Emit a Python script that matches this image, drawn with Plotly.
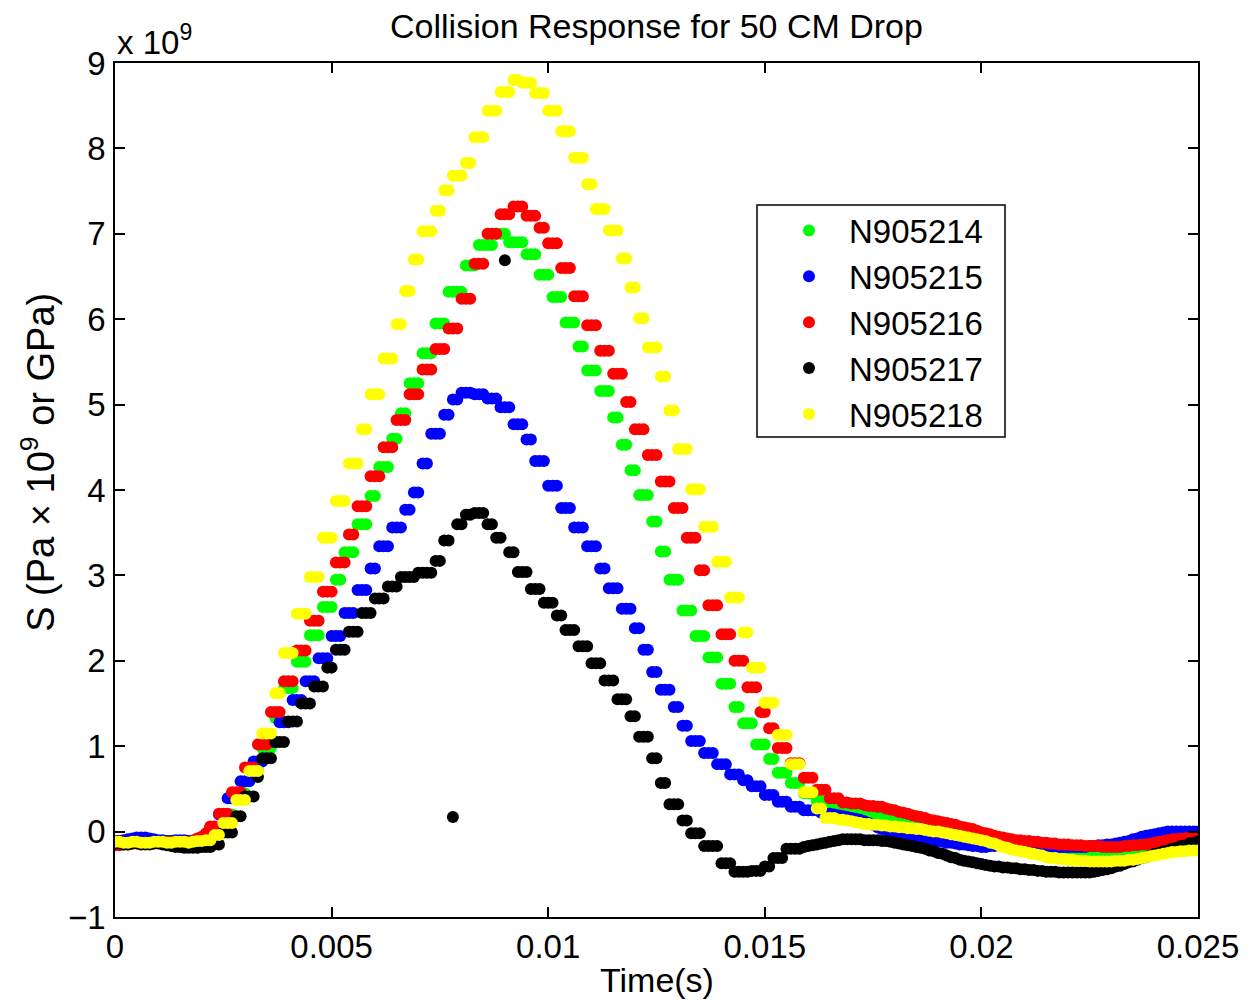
import numpy as np
import plotly.graph_objects as go

DT = 0.0001  # sampling interval (s)

# Values in units of 1e9 Pa, one per sample (t = i * DT)
n905214 = [
    -0.11, -0.11, -0.12, -0.11, -0.11, -0.10, -0.10, -0.11, -0.11, -0.12, -0.12, -0.11, -0.11, -0.11, -0.12, -0.12,
    -0.11, -0.11, -0.10, -0.10, -0.09, -0.08, -0.06,
    0.03, 0.03, 0.20, 0.20, 0.20, 0.45, 0.45, 0.45, 0.72, 0.72, 0.72, 0.98, 0.98, 0.98, 1.33, 1.33,
    1.68, 1.68, 1.68, 1.99, 1.99, 1.99, 2.30, 2.30, 2.30, 2.63, 2.63, 2.63, 2.95, 2.95,
    3.27, 3.27, 3.27, 3.60, 3.60, 3.60, 3.93, 3.93, 4.27, 4.27, 4.27, 4.60, 4.60, 4.90, 4.90,
    5.25, 5.25, 5.25, 5.60, 5.60, 5.60, 5.95, 5.95, 5.95, 6.32, 6.32, 6.32, 6.32, 6.63, 6.63, 6.63,
    6.87, 6.87, 6.87, 6.87, 7.00, 7.00, 7.00, 6.90, 6.90, 6.90, 6.90, 6.76, 6.76, 6.76,
    6.52, 6.52, 6.52, 6.26, 6.26, 6.26, 5.96, 5.96, 5.96, 5.68, 5.68, 5.40, 5.40, 5.40,
    5.16, 5.16, 5.16, 4.85, 4.85, 4.53, 4.53, 4.23, 4.23, 3.94, 3.94, 3.94, 3.63, 3.63, 3.28, 3.28,
    2.95, 2.95, 2.95, 2.59, 2.59, 2.59, 2.29, 2.29, 2.29, 2.04, 2.04, 2.04, 1.73, 1.73, 1.73,
    1.46, 1.46, 1.27, 1.27, 1.27, 1.02, 1.02, 1.02, 0.85, 0.85, 0.69, 0.69, 0.69, 0.57, 0.57, 0.57,
    0.45, 0.45, 0.45, 0.36, 0.36, 0.28, 0.28, 0.28,
    0.24, 0.23, 0.23, 0.22, 0.22,
    0.21, 0.20, 0.19, 0.18, 0.17, 0.16, 0.15, 0.14, 0.13,
    0.12, 0.11, 0.10, 0.09, 0.08, 0.07, 0.06, 0.05, 0.04, 0.03,
    0.02, 0.01, 0.00, -0.01, -0.02, -0.03, -0.04, -0.05, -0.06, -0.07,
    -0.08, -0.09, -0.10, -0.11, -0.12, -0.13, -0.14, -0.15, -0.16, -0.17,
    -0.18, -0.19, -0.20, -0.21, -0.22, -0.22, -0.23, -0.23, -0.24, -0.24,
    -0.24, -0.25, -0.25, -0.25, -0.25, -0.25, -0.25, -0.25, -0.25, -0.24,
    -0.24, -0.23, -0.22, -0.21, -0.20, -0.19, -0.18, -0.17, -0.16, -0.15,
    -0.14, -0.13, -0.12, -0.11, -0.10, -0.09, -0.08, -0.08, -0.07, -0.07,
]

n905215 = [
    -0.11, -0.11, -0.10, -0.09, -0.08, -0.07, -0.07, -0.07, -0.08, -0.09, -0.10, -0.10, -0.11, -0.11, -0.10, -0.10,
    -0.10, -0.11, -0.11, -0.10, -0.09,
    -0.04, 0.05, 0.05, 0.20, 0.20, 0.39, 0.39, 0.39, 0.59, 0.59, 0.59, 0.82, 0.82, 0.82,
    1.05, 1.05, 1.05, 1.28, 1.28, 1.28, 1.54, 1.54, 1.54, 1.76, 1.76, 1.76, 2.03, 2.03, 2.03,
    2.29, 2.29, 2.29, 2.56, 2.56, 2.56, 2.83, 2.83, 2.83, 3.08, 3.08, 3.34, 3.34, 3.34,
    3.56, 3.56, 3.56, 3.77, 3.77, 3.97, 3.97, 4.31, 4.31, 4.66, 4.66, 4.66, 4.88, 4.88, 5.06, 5.06,
    5.14, 5.14, 5.14, 5.12, 5.12, 5.12, 5.07, 5.07, 5.07, 4.97, 4.97, 4.97, 4.77, 4.77, 4.77,
    4.59, 4.59, 4.34, 4.34, 4.34, 4.05, 4.05, 4.05, 3.79, 3.79, 3.79, 3.56, 3.56, 3.56,
    3.34, 3.34, 3.34, 3.08, 3.08, 2.85, 2.85, 2.85, 2.61, 2.61, 2.61, 2.38, 2.38, 2.13, 2.13,
    1.87, 1.87, 1.66, 1.66, 1.66, 1.46, 1.46, 1.24, 1.24, 1.06, 1.06, 1.06, 0.92, 0.92, 0.92,
    0.79, 0.79, 0.79, 0.67, 0.67, 0.67, 0.60, 0.60, 0.53, 0.53, 0.53, 0.43, 0.43, 0.43,
    0.35, 0.35, 0.35, 0.29, 0.29, 0.29, 0.25, 0.25, 0.25, 0.25,
    0.22, 0.21, 0.21, 0.20, 0.19,
    0.18, 0.17, 0.16, 0.15, 0.14, 0.12, 0.10, 0.08,
    0.05, 0.03, 0.02, 0.00, -0.02, -0.04,
    -0.05, -0.06, -0.07, -0.08, -0.08, -0.09, -0.10, -0.11, -0.11,
    -0.12, -0.13, -0.13, -0.14, -0.15, -0.15, -0.16, -0.17, -0.17, -0.18,
    -0.18, -0.17, -0.17, -0.16, -0.16, -0.16, -0.16, -0.16, -0.17, -0.17,
    -0.17, -0.18, -0.18, -0.18, -0.18, -0.18, -0.18, -0.18, -0.18, -0.18,
    -0.18, -0.18, -0.18, -0.18, -0.17, -0.17, -0.16, -0.16, -0.15, -0.15,
    -0.14, -0.13, -0.12, -0.11, -0.09, -0.08, -0.06, -0.05, -0.04, -0.03,
    -0.02, -0.01, 0.00, 0.00, 0.00, 0.00, 0.00, 0.00, 0.00, 0.00,
]

n905216 = [
    -0.16, -0.16, -0.15, -0.15,
    -0.14, -0.13, -0.13, -0.13, -0.14, -0.14, -0.13, -0.13, -0.12, -0.12, -0.13, -0.13, -0.12, -0.12, -0.11,
    -0.08, -0.06, -0.02, 0.06, 0.06,
    0.21, 0.21, 0.21, 0.46, 0.46, 0.46, 0.75, 0.75, 0.75, 1.02, 1.02, 1.02, 1.40, 1.40, 1.40,
    1.76, 1.76, 1.76, 2.12, 2.12, 2.12, 2.47, 2.47, 2.47, 2.81, 2.81, 2.81, 3.15, 3.15, 3.15,
    3.48, 3.48, 3.81, 3.81, 3.81, 4.16, 4.16, 4.16, 4.50, 4.50, 4.50, 4.82, 4.82, 4.82,
    5.12, 5.12, 5.12, 5.41, 5.41, 5.41, 5.65, 5.65, 5.65, 5.89, 5.89, 5.89, 6.24, 6.24, 6.24,
    6.65, 6.65, 6.65, 7.00, 7.00, 7.00, 7.23, 7.23, 7.23, 7.32, 7.32, 7.32, 7.21, 7.21, 7.21,
    7.07, 7.07, 6.89, 6.89, 6.89, 6.60, 6.60, 6.60, 6.27, 6.27, 6.27, 5.93, 5.93, 5.93,
    5.63, 5.63, 5.63, 5.36, 5.36, 5.36, 5.03, 5.03, 4.71, 4.71, 4.71, 4.41, 4.41, 4.41,
    4.10, 4.10, 4.10, 3.79, 3.79, 3.79, 3.44, 3.44, 3.44, 3.06, 3.06, 2.65, 2.65, 2.65,
    2.31, 2.31, 2.31, 2.00, 2.00, 2.00, 1.69, 1.69, 1.69, 1.40, 1.40, 1.21, 1.21,
    0.98, 0.98, 0.98, 0.80, 0.80, 0.80, 0.63, 0.63, 0.63, 0.49, 0.49, 0.49, 0.39, 0.39, 0.39,
    0.34, 0.34, 0.33, 0.33, 0.33,
    0.31, 0.30, 0.30, 0.29, 0.29,
    0.27, 0.26, 0.25, 0.23, 0.22, 0.21,
    0.19, 0.18, 0.17, 0.16, 0.14, 0.13, 0.12,
    0.11, 0.10, 0.09, 0.08, 0.06, 0.05, 0.04, 0.03, 0.01, -0.01,
    -0.02, -0.03, -0.05, -0.06, -0.07, -0.08, -0.09, -0.10, -0.10, -0.11,
    -0.11, -0.12, -0.12, -0.13, -0.13, -0.14, -0.14, -0.15, -0.15, -0.15,
    -0.16, -0.16, -0.16, -0.17, -0.17, -0.17, -0.17, -0.18, -0.18, -0.18,
    -0.18, -0.18, -0.17, -0.17, -0.16, -0.16, -0.15, -0.15, -0.14, -0.13,
    -0.12, -0.11, -0.10, -0.09, -0.09, -0.08, -0.08, -0.07, -0.07, -0.07,
]

n905217 = [
    -0.14, -0.14, -0.15, -0.15, -0.14, -0.14, -0.15, -0.15, -0.15, -0.14, -0.14, -0.15, -0.16, -0.17,
    -0.18, -0.18, -0.19, -0.19, -0.19, -0.19, -0.18, -0.18, -0.18,
    -0.15, -0.15, -0.01, -0.01, -0.01, 0.18, 0.18, 0.41, 0.41, 0.41, 0.64,
    0.86, 0.86, 0.86, 1.05, 1.05, 1.05, 1.29, 1.29, 1.29, 1.50, 1.50, 1.50, 1.70, 1.70, 1.70,
    1.92, 1.92, 2.13, 2.13, 2.13, 2.34, 2.34, 2.34, 2.56, 2.56, 2.56, 2.73, 2.73, 2.73,
    2.87, 2.87, 2.87, 2.98, 2.98, 2.98, 2.98, 3.03, 3.03, 3.03, 3.03, 3.17, 3.17, 3.41, 3.41,
    0.17, 3.60, 3.60, 3.71, 3.71, 3.73, 3.73, 3.73, 3.60, 3.60, 3.44, 3.44, 6.69,
    3.27, 3.27, 3.04, 3.04, 3.04, 2.84, 2.84, 2.84, 2.68, 2.68, 2.68, 2.53, 2.53,
    2.36, 2.36, 2.36, 2.17, 2.17, 2.17, 1.97, 1.97, 1.97, 1.77, 1.77, 1.77, 1.55, 1.55, 1.55,
    1.35, 1.35, 1.11, 1.11, 1.11, 0.86, 0.86, 0.57, 0.57, 0.32, 0.32, 0.32, 0.13, 0.13,
    -0.02, -0.02, -0.02, -0.17, -0.17, -0.17, -0.17, -0.37, -0.37, -0.37,
    -0.47, -0.47, -0.47, -0.47, -0.46, -0.46, -0.46, -0.41, -0.41, -0.31, -0.31, -0.31,
    -0.20, -0.20, -0.20, -0.20,
    -0.18, -0.17, -0.16, -0.15, -0.14, -0.13, -0.12,
    -0.11, -0.10, -0.09, -0.09, -0.09, -0.09, -0.09, -0.10, -0.10, -0.10,
    -0.10, -0.11, -0.11, -0.12, -0.13, -0.14, -0.15, -0.16, -0.17, -0.18,
    -0.19, -0.20, -0.22, -0.23, -0.25, -0.26, -0.28, -0.30, -0.31, -0.33,
    -0.34, -0.35, -0.36, -0.37, -0.38, -0.39, -0.40, -0.41, -0.41, -0.42,
    -0.42, -0.43, -0.43, -0.44, -0.44, -0.45, -0.45, -0.46, -0.46, -0.47,
    -0.47, -0.47, -0.48, -0.48, -0.48, -0.48, -0.48, -0.48, -0.48, -0.48,
    -0.47, -0.46, -0.45, -0.44, -0.43, -0.41, -0.40, -0.38, -0.36, -0.35,
    -0.33, -0.31, -0.30, -0.28, -0.26, -0.25, -0.23, -0.22,
    -0.20, -0.19, -0.17, -0.16, -0.14, -0.13, -0.12,
]

n905218 = [
    -0.12, -0.12, -0.13, -0.13, -0.12, -0.12, -0.13, -0.13, -0.13, -0.12, -0.12, -0.12, -0.13, -0.13, -0.12, -0.12,
    -0.12, -0.13, -0.12, -0.11, -0.11, -0.10, -0.10,
    -0.04, -0.04, 0.10, 0.10, 0.10, 0.37, 0.37, 0.37, 0.71, 0.71, 0.71, 1.15, 1.15, 1.15, 1.62, 1.62,
    2.09, 2.09, 2.09, 2.55, 2.55, 2.55, 2.98, 2.98, 2.98, 3.44, 3.44, 3.44, 3.87, 3.87, 3.87,
    4.31, 4.31, 4.31, 4.71, 4.71, 5.12, 5.12, 5.12, 5.54, 5.54, 5.54, 5.94, 5.94, 6.33, 6.33,
    6.70, 6.70, 7.03, 7.03, 7.03, 7.27, 7.27, 7.51, 7.51, 7.68, 7.68, 7.68, 7.83, 7.83,
    8.13, 8.13, 8.13, 8.44, 8.44, 8.44, 8.66, 8.66, 8.66, 8.80, 8.80, 8.77, 8.77, 8.77,
    8.65, 8.65, 8.65, 8.44, 8.44, 8.44, 8.20, 8.20, 8.20, 7.89, 7.89, 7.89, 7.58, 7.58,
    7.29, 7.29, 7.29, 7.04, 7.04, 7.04, 6.71, 6.71, 6.37, 6.37, 6.01, 6.01, 5.67, 5.67, 5.67,
    5.33, 5.33, 4.93, 4.93, 4.48, 4.48, 4.48, 4.01, 4.01, 4.01, 3.57, 3.57, 3.57,
    3.16, 3.16, 3.16, 2.74, 2.74, 2.74, 2.33, 2.33, 1.92, 1.92, 1.92, 1.51, 1.51, 1.51,
    1.13, 1.13, 1.13, 0.79, 0.79, 0.79, 0.46, 0.46, 0.46, 0.27, 0.27, 0.16, 0.16, 0.16,
    0.14, 0.14, 0.13, 0.12, 0.11, 0.10,
    0.09, 0.09, 0.08, 0.08, 0.07, 0.07, 0.06, 0.06, 0.05, 0.05, 0.04, 0.04,
    0.03, 0.03, 0.02, 0.01, 0.00, 0.00, -0.01, -0.02, -0.03, -0.04, -0.05, -0.06, -0.07,
    -0.08, -0.09, -0.10, -0.11, -0.13, -0.14, -0.16, -0.18, -0.19, -0.21,
    -0.22, -0.23, -0.24, -0.25, -0.26, -0.27, -0.28, -0.30, -0.31,
    -0.31, -0.32, -0.32, -0.33, -0.33, -0.34, -0.34, -0.34, -0.35, -0.35, -0.35, -0.35,
    -0.35, -0.35, -0.34, -0.34, -0.34, -0.33, -0.33,
    -0.32, -0.31, -0.30, -0.29, -0.28, -0.27, -0.26, -0.25,
    -0.24, -0.24, -0.23, -0.23, -0.22, -0.22, -0.22,
]

series_names = ["N905214", "N905215", "N905216", "N905217", "N905218"]
series_values = [n905214, n905215, n905216, n905217, n905218]
series_colors = ["#00ff00", "#0000ff", "#ff0000", "#000000", "#ffff00"]

x_tick_vals = [0, 0.005, 0.01, 0.015, 0.02, 0.025]
x_tick_text = ["0", "0.005", "0.01", "0.015", "0.02", "0.025"]
y_tick_vals = [-1, 0, 1, 2, 3, 4, 5, 6, 7, 8, 9]
y_tick_text = ["\u22121", "0", "1", "2", "3", "4", "5", "6", "7", "8", "9"]

FONT = "Liberation Sans, Arial, Helvetica, sans-serif"
FS_TICK = 33
FS_TEXT = 34
FS_LEG = 33
FS_YLAB = 38

fig = go.Figure()
for name, vals, col in zip(series_names, series_values, series_colors):
    t = np.arange(len(vals)) * DT
    fig.add_trace(go.Scatter(
        x=t, y=vals, mode="markers", name=name,
        marker=dict(color=col, size=12, line=dict(width=0)),
    ))

axis_common = dict(
    showline=True, linecolor="black", linewidth=1.5, mirror="ticks",
    ticks="inside", ticklen=10, tickwidth=1.5, tickcolor="black",
    showgrid=False, zeroline=False,
    tickfont=dict(family=FONT, size=FS_TICK, color="black"),
)

# page body has an 8px margin: figure is sized/offset so the axes box sits at
# x 115..1198, y 63..917 in the 1252x1000 window
fig.update_layout(
    width=1244, height=992,
    margin=dict(l=107, r=54, t=55, b=83),
    paper_bgcolor="white", plot_bgcolor="white",
    font=dict(family=FONT, size=FS_TEXT, color="black"),
    title=dict(text="Collision Response for 50 CM Drop", x=0.5, xref="paper", xanchor="center",
               y=0.982, yref="container", yanchor="middle",
               font=dict(family=FONT, size=FS_TEXT, color="black")),
    xaxis=dict(range=[0, 0.025], tickvals=x_tick_vals, ticktext=x_tick_text,
               ticklabelstandoff=0, **axis_common),
    yaxis=dict(range=[-1, 9], tickvals=y_tick_vals, ticktext=y_tick_text,
               ticklabelstandoff=1, **axis_common),
    legend=dict(x=0.5928, y=0.8367, xanchor="left", yanchor="top",
                borderwidth=0, bgcolor="rgba(255,255,255,0)",
                font=dict(family=FONT, size=FS_LEG, color="black"),
                itemwidth=70, indentation=12),
    showlegend=True,
    shapes=[
        # legend frame
        dict(type="rect", xref="paper", yref="paper",
             x0=0.5928, x1=0.8218, y0=0.5621, y1=0.8337,
             line=dict(color="black", width=1.5), fillcolor="rgba(0,0,0,0)", layer="above"),
    ],
    annotations=[
        dict(text="x 10<sup>9</sup>", xref="paper", yref="paper", x=0, y=1,
             xanchor="left", yanchor="bottom", showarrow=False, yshift=0,
             font=dict(family=FONT, size=FS_TICK, color="black")),
        dict(text="Time(s)", xref="paper", yref="paper", x=0.5, y=-0.0738,
             xanchor="center", yanchor="middle", showarrow=False,
             font=dict(family=FONT, size=FS_TEXT, color="black")),
        dict(text="S (Pa \u00d7 10<sup>9</sup> or GPa)", xref="paper", yref="paper",
             x=-0.0711, y=0.533, xanchor="center", yanchor="middle", textangle=-90,
             showarrow=False, font=dict(family=FONT, size=FS_YLAB, color="black")),
    ],
)

fig.write_html("out.html")
